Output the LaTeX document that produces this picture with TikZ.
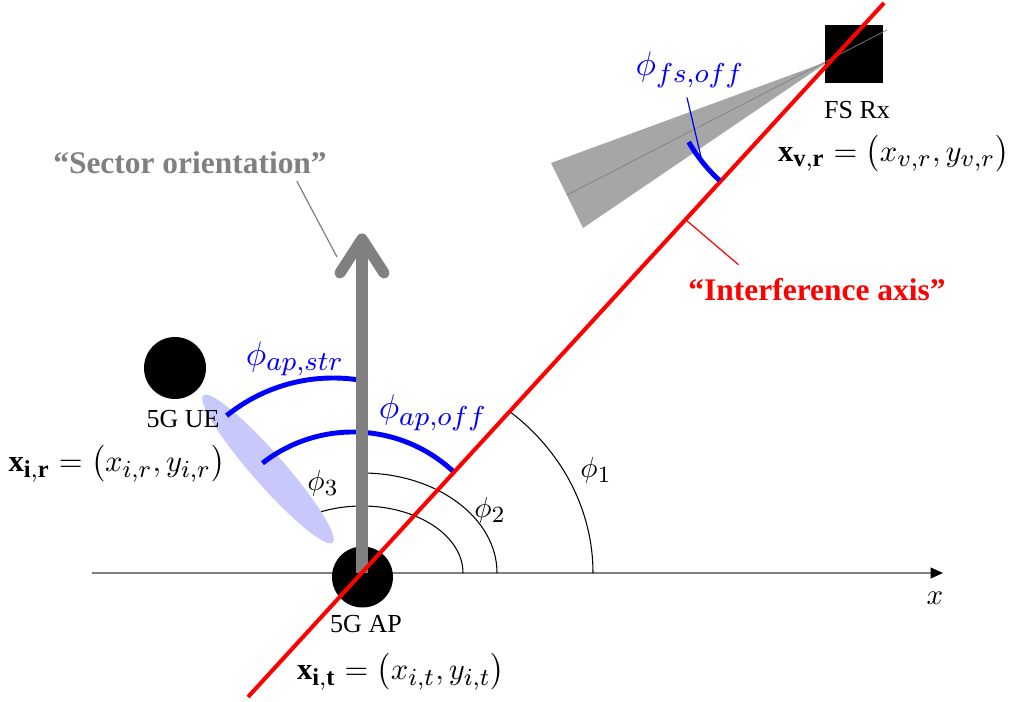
\documentclass[tikz,border=0pt]{standalone}
\usepackage{fontspec}
\setmainfont{Liberation Serif}
\usepackage{amsmath}
\usetikzlibrary{calc,arrows.meta}

\DeclareMathSizes{10}{10}{8}{6}

\definecolor{axisgray}{RGB}{128,128,128}
\definecolor{beamgray}{RGB}{166,166,166}
\definecolor{uecloud}{RGB}{200,200,250}

\tikzset{
  phiarc/.style={black, line width=0.6pt},
  bluearc/.style={blue, line width=2.8pt},
  sectorarrow/.style={axisgray, line width=6.3pt},
  leader/.style={line width=0.7pt},
  devlbl/.style={inner sep=0pt, font=\fontsize{14.8}{17}\selectfont},
  eqlbl/.style={inner sep=0pt, font=\normalsize, scale=1.74},
  philbl/.style={inner sep=0.5pt, font=\normalsize, scale=1.65},
  offlbl/.style={inner sep=0.5pt, blue, font=\normalsize, scale=1.95},
  quotelbl/.style={inner sep=1pt, font=\fontsize{17.9}{21}\selectfont\bfseries},
}

\begin{document}
\begin{tikzpicture}[x=0.02cm, y=0.02cm]
    \useasboundingbox (0,0) rectangle (1013,702);

    \coordinate (O) at (362,129);
    \coordinate (xbeg) at (92,129);
    \coordinate (xend) at (943,129);
    \coordinate (redlo) at (248,5);
    \coordinate (redhi) at (884,699);
    \coordinate (apex) at (829,641);
    \coordinate (beamA) at (551,539);
    \coordinate (beamB) at (583,474);
    \coordinate (beamlo) at (567,507);
    \coordinate (beamhi) at (887,672);
    \coordinate (tip) at (362,463);
    \coordinate (wingL) at (340,429);
    \coordinate (wingR) at (384,429);
    \coordinate (secptr) at (337,445);
    \coordinate (redfoot) at (686,482);
    \coordinate (fsptr) at (701,545);

    % x axis
    \draw [axisgray, line width=1.1pt, -{Triangle[length=7pt, width=6pt, color=black]}] (xbeg) -- (xend);

    % angles
    \draw [phiarc] (O) ++(231,0) arc [start angle=0, end angle=50, x radius=231, y radius=210];
    \draw [phiarc] (O) ++(135,0) arc [start angle=0, end angle=90, x radius=135, y radius=100];
    \draw [phiarc] (O) ++(101,0) arc [start angle=0, end angle=118, x radius=101, y radius=67];

    % AP and UE
    \node [circle, fill, inner sep=0pt, minimum size=1.22cm] (ap) at (362.5,125) {};
    \node [circle, fill, inner sep=0pt, minimum size=1.24cm] (ue) at (175,334) {};
    \fill [uecloud, rotate around={-48.7:(268,233)}] (268,233) ellipse [x radius=98, y radius=16];

    \draw [bluearc] (353,123) ++(46:147) arc [start angle=46, end angle=128, radius=147];
    \draw [bluearc] (333,155) ++(81:169) arc [start angle=81, end angle=129, radius=169];

    % sector orientation
    \draw [sectorarrow] (O) -- (tip);
    \draw [sectorarrow, line cap=round, line join=round] (wingL) -- (tip) -- (wingR);

    % FS Rx
    \fill [beamgray] (apex) -- (beamA) -- (beamB) -- cycle;
    \node [fill, inner sep=0pt, minimum size=1.16cm] (fsrx) at (854,648) {};
    \draw [axisgray, line width=0.4pt] (beamlo) -- (beamhi);

    \draw [red, line width=2.3pt] (redlo) -- (redhi);
    \draw [bluearc] (apex) ++(210:162) arc [start angle=210, end angle=227.5, radius=162];

    % labels
    \node [devlbl] (fsname) at (857,592) {FS Rx};
    \node [eqlbl, anchor=east] (fseq) at (1010,548) {$\mathbf{x_{v,r}} = \bigl(x_{v,r}, y_{v,r}\bigr)$};
    \node [devlbl] (uename) at (183,283) {5G UE};
    \node [eqlbl, anchor=west] (ueeq) at (8,238) {$\mathbf{x_{i,r}} = \bigl(x_{i,r}, y_{i,r}\bigr)$};
    \node [devlbl] (apname) at (366,78) {5G AP};
    \node [eqlbl] (apeq) at (401,30) {$\mathbf{x_{i,t}} = \bigl(x_{i,t}, y_{i,t}\bigr)$};

    \node [quotelbl, axisgray] (seclbl) at (190,539) {“Sector orientation”};
    \node [quotelbl, red] (intlbl) at (817,412) {“Interference axis”};
    \draw [axisgray, leader] (seclbl.south east) ++(-32,-5) -- (secptr);
    \draw [red, leader] (redfoot) -- ($(intlbl.north west)+(52,12)$);

    \node [offlbl] (fsofflbl) at (690,632) {$\phi_{fs,off}$};
    \node [offlbl] (strlbl) at (295,343) {$\phi_{ap,str}$};
    \node [offlbl] (offlbl) at (433,289) {$\phi_{ap,off}$};
    \draw [blue, leader] (fsofflbl.south) ++(-3,-7) -- (fsptr);

    \node [philbl] (phione) at (596,232) {$\phi_1$};
    \node [philbl] (phitwo) at (490,192) {$\phi_2$};
    \node [philbl] (phithree) at (323,219) {$\phi_3$};
    \node [philbl] (xlbl) at (935,104) {$x$};
\end{tikzpicture}
\end{document}
